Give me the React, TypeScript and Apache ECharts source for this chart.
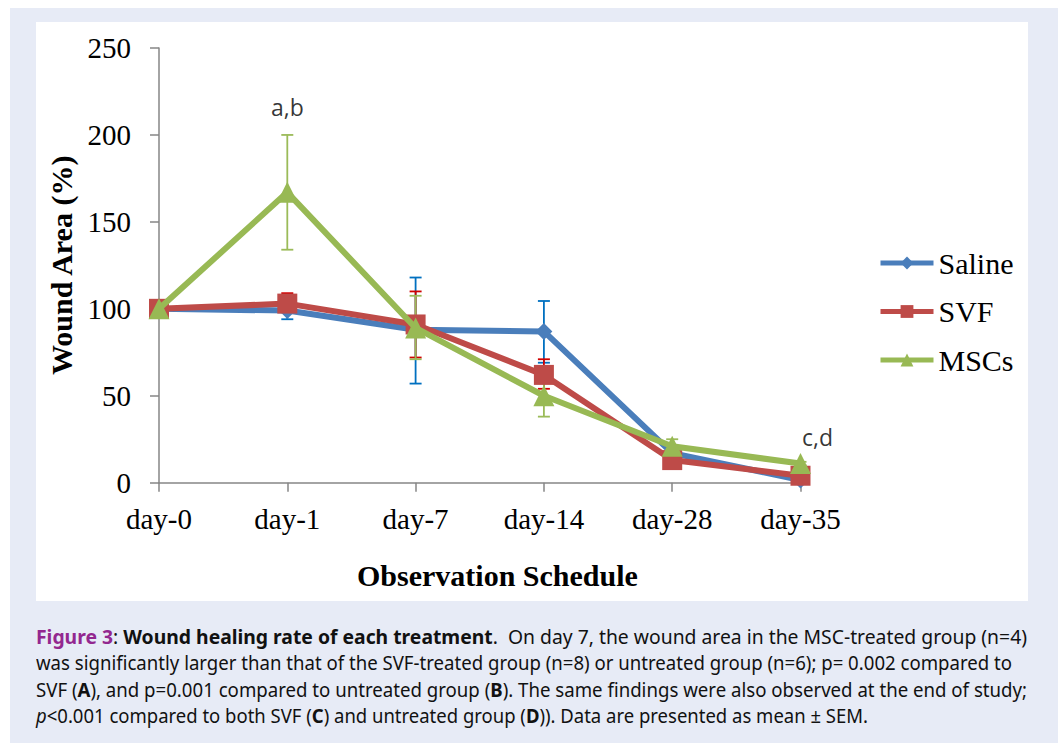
import React, { useEffect, useRef } from "react";
import * as echarts from "echarts";

const categories = ["day-0", "day-1", "day-7", "day-14", "day-28", "day-35"];
const salineMean = [100, 99, 88, 87, 17, 1.5];
const salineLow = [100, 94, 57, 69, 15, 0];
const salineHigh = [100, 104, 118, 104.5, 19, 3];
const svfMean = [100, 103, 91, 62, 13, 4];
const svfLow = [100, 98, 72, 54, 11, 3];
const svfHigh = [100, 109, 110, 71, 15, 5];
const mscMean = [100, 167, 89, 50, 21, 11];
const mscLow = [100, 134, 71, 38, 18, 10];
const mscHigh = [100, 200, 107.5, 62, 25, 12];
const yTicks = { min: 0, max: 250, interval: 50 };
const annotations = [
  { x: 1, y: 216, text: "a,b", dx: 0 },
  { x: 5, y: 26, text: "c,d", dx: 17 },
];

const SERIF = "'Liberation Serif', 'Times New Roman', serif";

function errBars(low: number[], high: number[]) {
  return low.map((l, i) => [i, l, high[i]]);
}

function makeErrSeries(name: string, data: number[][], color: string) {
  return {
    type: "custom",
    name: name + "-err",
    z: 1,
    silent: true,
    data,
    renderItem: (params: any, api: any) => {
      const x = api.value(0);
      const lo = api.coord([x, api.value(1)]);
      const hi = api.coord([x, api.value(2)]);
      const w = 6;
      const style = { stroke: color, lineWidth: 1.8 };
      return {
        type: "group",
        children: [
          { type: "line", shape: { x1: lo[0], y1: lo[1], x2: hi[0], y2: hi[1] }, style },
          { type: "line", shape: { x1: lo[0] - w, y1: lo[1], x2: lo[0] + w, y2: lo[1] }, style },
          { type: "line", shape: { x1: hi[0] - w, y1: hi[1], x2: hi[0] + w, y2: hi[1] }, style },
        ],
      };
    },
  };
}

const captionLines: { parts: { t: string; b?: boolean; i?: boolean; c?: string }[]; w: number }[] = [
  {
    w: 991,
    parts: [
      { t: "Figure 3", b: true, c: "#93278f" },
      { t: ": " },
      { t: "Wound healing rate of each treatment", b: true },
      { t: ".  On day 7, the wound area in the MSC-treated group (n=4)" },
    ],
  },
  {
    w: 976,
    parts: [
      { t: "was significantly larger than that of the SVF-treated group (n=8) or untreated group (n=6); p= 0.002 compared to" },
    ],
  },
  {
    w: 991,
    parts: [
      { t: "SVF (" },
      { t: "A", b: true },
      { t: "), and p=0.001 compared to untreated group (" },
      { t: "B", b: true },
      { t: "). The same findings were also observed at the end of study;" },
    ],
  },
  {
    w: 832,
    parts: [
      { t: "p", i: true },
      { t: "<0.001 compared to both SVF (" },
      { t: "C", b: true },
      { t: ") and untreated group (" },
      { t: "D", b: true },
      { t: ")). Data are presented as mean ± SEM." },
    ],
  },
];
const captionTops = [637, 663, 690, 716];

export default function App() {
  const ref = useRef<HTMLDivElement>(null);
  const lineRefs = useRef<(HTMLDivElement | null)[]>([]);

  useEffect(() => {
    lineRefs.current.forEach((el, i) => {
      if (!el) return;
      const inner = el.firstChild as HTMLElement;
      const w = inner.getBoundingClientRect().width;
      if (w > 0) inner.style.transform = `scaleX(${captionLines[i].w / w})`;
    });
  }, []);

  useEffect(() => {
    if (!ref.current) return;
    const chart = echarts.init(ref.current, null, { renderer: "svg" });
    const axisLine = { show: true, lineStyle: { color: "#868686", width: 1.5 } };
    chart.setOption({
      animation: false,
      backgroundColor: "transparent",
      grid: { left: 159, top: 48, width: 641.5, height: 434.7 },
      legend: {
        data: ["Saline", "SVF", "MSCs"],
        orient: "vertical",
        left: 878,
        top: 248,
        padding: 0,
        itemWidth: 53,
        itemHeight: 16,
        itemGap: 18.5,
        lineStyle: { width: 5 },
        textStyle: { fontFamily: SERIF, fontSize: 30, color: "#000", lineHeight: 30, padding: [0, 0, 0, 0] },
      },
      graphic: [
        {
          type: "text",
          left: 500 - 143,
          top: 560,
          style: {
            text: "Observation Schedule",
            fontFamily: SERIF,
            fontSize: 30,
            fontWeight: "bold",
            fill: "#000",
          },
        },
      ],
      xAxis: {
        type: "category",
        data: categories,
        boundaryGap: false,
        axisLine,
        axisTick: { show: true, alignWithLabel: true, length: 9, lineStyle: { color: "#868686", width: 1.5 } },
        axisLabel: { fontFamily: SERIF, fontSize: 29, color: "#000", margin: 22 },
      },
      yAxis: {
        type: "value",
        min: yTicks.min,
        max: yTicks.max,
        interval: yTicks.interval,
        axisLine,
        axisTick: { show: true, length: 9, lineStyle: { color: "#868686", width: 1.5 } },
        splitLine: { show: false },
        axisLabel: { fontFamily: SERIF, fontSize: 29, color: "#000", margin: 28 },
        name: "Wound Area (%)",
        nameLocation: "middle",
        nameRotate: 90,
        nameGap: 77,
        nameTextStyle: { fontFamily: SERIF, fontSize: 30, fontWeight: "bold", color: "#000" },
      },
      series: [
        makeErrSeries("Saline", errBars(salineLow, salineHigh), "#0070c0"),
        makeErrSeries("SVF", errBars(svfLow, svfHigh), "#d00000"),
        makeErrSeries("MSCs", errBars(mscLow, mscHigh), "#9bbb59"),
        {
          name: "Saline",
          type: "line",
          z: 3,
          data: salineMean,
          symbol: "diamond",
          symbolSize: 17,
          lineStyle: { color: "#4a7ebb", width: 6 },
          itemStyle: { color: "#4a7ebb" },
        },
        {
          name: "SVF",
          type: "line",
          z: 4,
          data: svfMean,
          symbol: "rect",
          symbolSize: 20,
          lineStyle: { color: "#be4b48", width: 6 },
          itemStyle: { color: "#be4b48" },
        },
        {
          name: "MSCs",
          type: "line",
          z: 5,
          data: mscMean,
          symbol: "triangle",
          symbolSize: 21,
          lineStyle: { color: "#98b954", width: 6 },
          itemStyle: { color: "#98b954" },
        },
        {
          type: "scatter",
          name: "annot",
          z: 6,
          silent: true,
          symbolSize: 0,
          data: annotations.map((a) => ({
            value: [a.x, a.y],
            label: { show: true, formatter: a.text, offset: [a.dx, 0] },
          })),
          label: {
            show: true,
            position: "inside",
            fontFamily: "'Open Sans', sans-serif",
            fontSize: 23,
            color: "#000",
          },
        },
      ],
    });
    return () => chart.dispose();
  }, []);

  return (
    <div style={{ position: "absolute", left: 0, top: 0, width: 1058, height: 743, background: "#fff", overflow: "hidden" }}>
      <div style={{ position: "absolute", left: 10, top: 8, width: 1048, height: 735, background: "#e7ebf6" }} />
      <div style={{ position: "absolute", left: 36, top: 22, width: 992, height: 579, background: "#fff" }} />
      {captionLines.map((line, i) => (
        <div
          key={i}
          ref={(el) => {
            lineRefs.current[i] = el;
          }}
          style={{
            position: "absolute",
            left: 36,
            top: captionTops[i] - 13,
            height: 26,
            lineHeight: "26px",
            whiteSpace: "nowrap",
            fontFamily: "'Noto Sans', 'Open Sans', sans-serif",
            fontSize: 20,
            color: "#111",
          }}
        >
          <span style={{ display: "inline-block", transformOrigin: "0 50%" }}>
            {line.parts.map((p, j) => (
              <span
                key={j}
                style={{
                  fontWeight: p.b ? "bold" : "normal",
                  fontStyle: p.i ? "italic" : "normal",
                  color: p.c || undefined,
                  whiteSpace: "pre",
                }}
              >
                {p.t}
              </span>
            ))}
          </span>
        </div>
      ))}
      <div ref={ref} style={{ position: "absolute", left: 0, top: 0, width: 1058, height: 743 }} />
    </div>
  );
}
